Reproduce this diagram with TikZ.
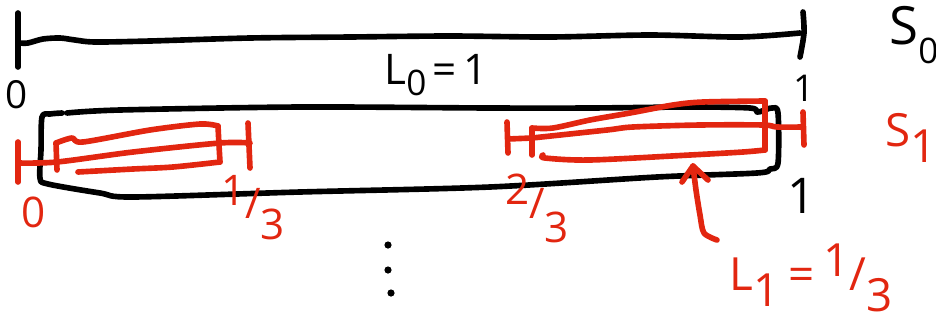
\documentclass[tikz,border=0pt]{standalone}
\usepackage{fontspec}
\setmainfont{Open Sans}
\definecolor{redink}{RGB}{226,38,16}
\newcommand{\fsz}[1]{\fontsize{#1}{#1}\selectfont}
\begin{document}
\begin{tikzpicture}[x=0.01cm,y=-0.01cm,
  ink/.style={line width=1.6pt, line cap=round, line join=round},
  blk/.style={ink, draw=black},
  rd/.style={ink, draw=redink},
  lbl/.style={inner sep=0pt, anchor=center},
  redlbl/.style={lbl, text=redink},
  dotmark/.style={fill=black, draw=none}]
\useasboundingbox (0,0) rectangle (936,324);

% ---- S0: the unit interval ----
\draw[blk] plot[smooth] coordinates {(18,13) (18,40) (18,67)};
\draw[blk] plot[smooth] coordinates {(20,43) (28,43) (43,39) (60,38) (75,40) (95,42) (150,41) (250,38) (350,37) (450,36) (550,37) (650,35) (740,37) (800,33)};
\draw[blk] plot[smooth] coordinates {(803,12) (804,33) (800,57)};

\node[lbl, font=\fsz{11pt}] (zero0) at (17,95) {0};
\node[lbl, font=\fsz{10.5pt}] (one0) at (804,88) {1};
\node[lbl, font=\fsz{12pt}] (len0) at (436,75) {L\raisebox{-0.25em}{\fsz{10pt}0}\kern0.15em=\kern0.15em1};
\node[lbl, font=\fsz{15pt}] (s0) at (914,35) {S\raisebox{-0.35em}{\fsz{10pt}0}};

% ---- black loop around S1 ----
\draw[blk] plot[smooth] coordinates {(62,113) (50,114) (42,117) (41,150) (40,178) (48,184) (100,193) (133,197) (300,192) (490,187) (657,177) (757,173) (770,169) (778,163) (778,113) (772,108) (762,111) (757,112) (750,108) (690,107) (590,108) (490,108) (300,107) (120,110) (67,113)};

% ---- S1: left third ----
\draw[rd] (18,142) -- (18,182);
\draw[rd] plot[smooth] coordinates {(18,163) (57,162) (133,152) (220,143) (250,143)};
\draw[rd] (248,123) -- (250,168);
\draw[rd] plot[smooth] coordinates {(57,170) (56,143)};
\draw[rd] plot[smooth] coordinates {(56,143) (72,138) (83,142) (150,130) (200,124) (218,126)};
\draw[rd] plot[smooth] coordinates {(218,126) (219,145) (220,162)};
\draw[rd] plot[smooth] coordinates {(220,162) (173,167) (133,169) (78,172)};

% ---- S1: right third ----
\draw[rd] (507,122) -- (508,153);
\draw[rd] (508,139) -- (532,138);
\draw[rd] (532,155) -- (532,128);
\draw[rd] plot[smooth] coordinates {(532,128) (553,128) (590,120) (630,113) (673,105) (703,102) (765,101)};
\draw[rd] (765,101) -- (765,150);
\draw[rd] plot[smooth] coordinates {(765,150) (743,152) (690,155) (590,160) (545,158) (543,155)};
\draw[rd] plot[smooth] coordinates {(532,138) (607,130) (633,127) (700,125) (763,125) (777,127) (803,127)};
\draw[rd] (803,112) -- (804,145);

% ---- S1 labels ----
\node[redlbl, font=\fsz{12pt}] (zero1) at (34,212) {0};
\node[redlbl, font=\fsz{12pt}] (third) at (253,208) {\raisebox{0.3em}{1}/\raisebox{-0.5em}{3}};
\node[redlbl, font=\fsz{12pt}] (twothirds) at (537,208) {\raisebox{0.35em}{2}/\raisebox{-0.55em}{3}};
\node[lbl, font=\fsz{14pt}] (one1) at (802,196) {1};
\node[redlbl, font=\fsz{13pt}] (s1) at (911,138) {S\raisebox{-0.35em}{1}};
\node[redlbl, font=\fsz{13pt}] (len1) at (811,278) {L\raisebox{-0.35em}{1}\kern0.2em=\kern0.2em\raisebox{0.3em}{1}/\raisebox{-0.45em}{3}};

% ---- arrow from the length label to the right third ----
\coordinate (arrtail) at (717,240);
\coordinate (arrtip) at (693,166);
\draw[rd] plot[smooth] coordinates {(arrtail) (704,233) (700,215) (696,190) (arrtip)};
\draw[rd] (682,182) -- (arrtip) -- (708,180);

% ---- vertical ellipsis ----
\fill[dotmark] (388,245) circle (3.6);
\fill[dotmark] (388,270) circle (3.6);
\fill[dotmark] (391,293) circle (3.6);
\end{tikzpicture}
\end{document}
